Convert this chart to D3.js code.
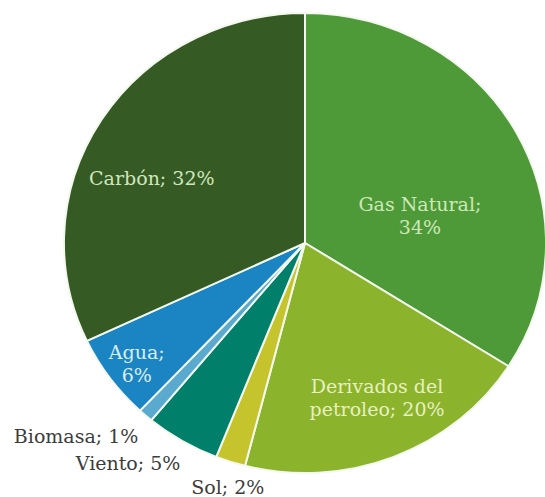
<!DOCTYPE html>
<html>
<head>
<meta charset="utf-8">
<script src="https://cdn.jsdelivr.net/npm/d3@7"></script>
<style>
  body { margin: 0; background: #fff; }
  svg text { font-family: "DejaVu Serif", Georgia, serif; font-size: 19px; }
</style>
</head>
<body>
<div id="chart"></div>
<script>
// data
const categories = ['Gas Natural', 'Derivados del petroleo', 'Sol', 'Viento', 'Biomasa', 'Agua', 'Carbón'];
const values = [34, 20, 2, 5, 1, 6, 32];

// palette (same order as categories)
const fills = ['#4f9a38', '#8cb32c', '#c5c42c', '#00806a', '#5aaad0', '#1b85c3', '#355a23'];
const labelFills = ['#cde8b8', '#e6f0c2', '#3c3c3c', '#3c3c3c', '#3c3c3c', '#dcedf8', '#d2e6bc'];

// label placement: angle (deg, clockwise from top), radius, anchor, line breaks
const labelLayout = {
  'Gas Natural':            {a: 76,    r: 113, anchor: 'middle', lines: ['Gas Natural;', '34%']},
  'Derivados del petroleo': {a: 156,   r: 169, anchor: 'middle', lines: ['Derivados del', 'petroleo; 20%']},
  'Sol':                    {a: 196.8, r: 255, anchor: 'middle', lines: ['Sol; 2%']},
  'Viento':                 {a: 208.4, r: 250, anchor: 'end',    lines: ['Viento; 5%']},
  'Biomasa':                {a: 219.5, r: 250, anchor: 'end',    lines: ['Biomasa; 1%']},
  'Agua':                   {a: 233,   r: 201, anchor: 'middle', lines: ['Agua;', '6%']},
  'Carbón':                 {a: 294,   r: 160, anchor: 'middle', lines: ['Carbón; 32%']}
};

const width = 545, height = 497;
const cx = 305, cy = 243;
const radius = 230;
const sx = 1.048; // the source pie is a little wider than tall
const lineH = 23;

const svg = d3.select('#chart')
    .append('svg')
    .attr('width', width)
    .attr('height', height);

const rows = categories.map((c, i) => ({name: c, value: values[i], i: i}));

const pie = d3.pie()
    .sort(null)
    .value(d => d.value)
    .startAngle(0)
    .endAngle(2 * Math.PI);

const arc = d3.arc()
    .innerRadius(0)
    .outerRadius(radius);

// slices
svg.append('g')
    .attr('transform', `translate(${cx},${cy}) scale(${sx},1)`)
    .selectAll('path')
    .data(pie(rows))
    .enter()
    .append('path')
    .attr('d', arc)
    .attr('fill', d => fills[d.data.i])
    .attr('stroke', '#f4f9ef')
    .attr('stroke-width', 2)
    .attr('stroke-linejoin', 'round')
    .attr('vector-effect', 'non-scaling-stroke');

// labels
const labels = svg.append('g')
    .selectAll('text')
    .data(rows)
    .enter()
    .append('text')
    .attr('text-anchor', d => labelLayout[d.name].anchor)
    .attr('fill', d => labelFills[d.i])
    .attr('transform', d => {
        const l = labelLayout[d.name];
        const t = l.a * Math.PI / 180;
        const x = cx + sx * l.r * Math.sin(t);
        const y = cy - l.r * Math.cos(t);
        return `translate(${x},${y})`;
    });

labels.each(function(d) {
    const lines = labelLayout[d.name].lines;
    const first = -(lines.length - 1) * lineH / 2;
    d3.select(this).selectAll('tspan')
        .data(lines)
        .enter()
        .append('tspan')
        .attr('x', 0)
        .attr('y', (s, k) => first + k * lineH)
        .attr('dy', '0.35em')
        .text(s => s);
});
</script>
</body>
</html>
